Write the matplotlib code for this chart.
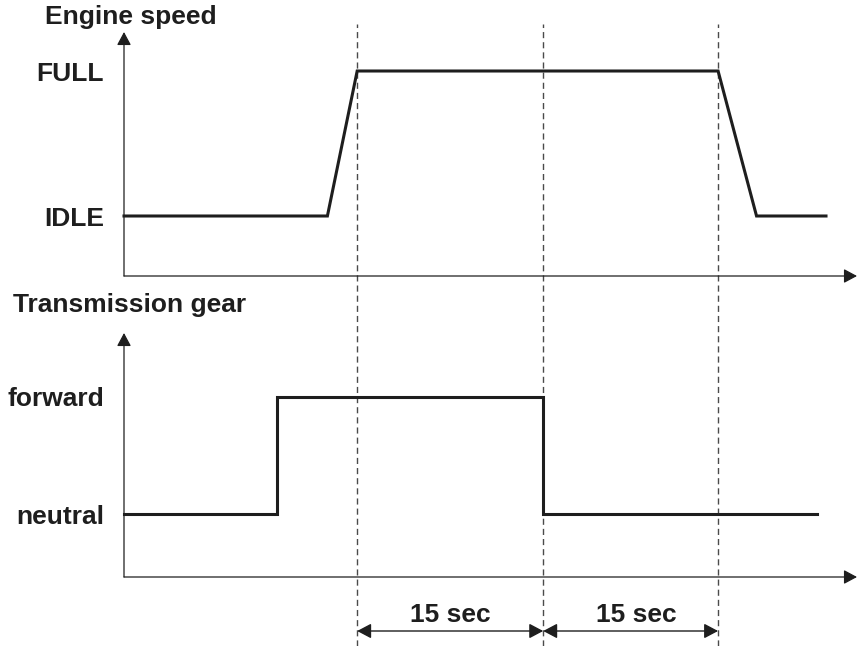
"""
Timing diagram: engine speed and transmission gear over time.
"""
import matplotlib
matplotlib.use("Agg")
import matplotlib.pyplot as plt

# ---------------------------------------------------------------------------
# Data (time in seconds, levels 0 = low state, 1 = high state)
# ---------------------------------------------------------------------------
T_END = 59.1

engine_t   = [0.0, 16.4, 18.8, 47.9, 51.0, 56.6]
engine_lvl = [0, 0, 1, 1, 0, 0]
engine_ticks = ["IDLE", "FULL"]

gear_t   = [0.0, 12.3, 12.3, 33.8, 33.8, 55.9]
gear_lvl = [0, 0, 1, 1, 0, 0]
gear_ticks = ["neutral", "forward"]

marks_t     = [18.8, 33.8, 47.9]
interval_lb = ["15 sec", "15 sec"]

# ---------------------------------------------------------------------------
# Style
# ---------------------------------------------------------------------------
_W, _H  = 857, 646
_DPI    = 100
_FONT   = "Liberation Sans"
_FS     = 19
_INK    = "#1e1e1e"
_DASH   = "#4a4a4a"

plt.rcParams["font.family"] = [_FONT, "DejaVu Sans"]
plt.rcParams["font.weight"] = "bold"

fig = plt.figure(figsize=(_W / _DPI, _H / _DPI), dpi=_DPI)

left  = 124 / _W
width = (_W - 124) / _W


def _panel(bottom_px, top_px, ylim, ticks, t, lvl):
    ax = fig.add_axes([left, 1 - bottom_px / _H, width, (bottom_px - top_px) / _H])
    ax.patch.set_visible(False)
    ax.plot(t, lvl, color=_INK, lw=2.2, solid_joinstyle="miter", clip_on=False)
    ax.set_xlim(0, T_END)
    ax.set_ylim(*ylim)
    for s in ax.spines.values():
        s.set_visible(False)
    ax.set_xticks([])
    ax.set_yticks([0, 1])
    ax.set_yticklabels(ticks, fontsize=_FS, fontweight="bold", color=_INK)
    ax.tick_params(axis="y", length=0, pad=14.4)
    arrow = dict(arrowstyle="-|>,head_length=0.8,head_width=0.43",
                 lw=0.9, color=_INK, shrinkA=0, shrinkB=0)
    ax.annotate("", xy=(1, 0), xytext=(0, 0), xycoords="axes fraction",
                arrowprops=arrow)
    ax.annotate("", xy=(0, 1), xytext=(0, 0), xycoords="axes fraction",
                arrowprops=arrow)
    return ax


# top: axis at y=276 px, IDLE 216, FULL 71, arrow tip 32 -> 145 px per level
ax_top = _panel(276, 32, (-60 / 145, 1 + 39 / 145), engine_ticks, engine_t, engine_lvl)
# bottom: axis at y=577 px, neutral 514, forward 397, arrow tip 333 -> 117 px per level
ax_bot = _panel(577, 333, (-63 / 117, 1 + 64 / 117), gear_ticks, gear_t, gear_lvl)

fig.text(45 / _W, 1 - 17 / _H, "Engine speed", fontsize=_FS, fontweight="bold",
         color=_INK, ha="left", va="center")
fig.text(13 / _W, 1 - 305 / _H, "Transmission gear", fontsize=_FS, fontweight="bold",
         color=_INK, ha="left", va="center")

# ---------------------------------------------------------------------------
# Overlay: dashed markers and interval dimensions
# ---------------------------------------------------------------------------
ov = fig.add_axes([left, 0, width, 1], zorder=-1)
ov.set_xlim(0, T_END)
ov.set_ylim(0, 1)
ov.axis("off")

for t in marks_t:
    ov.axvline(t, ymin=0, ymax=1 - 24 / _H, color=_DASH, lw=1.0,
               linestyle=(0, (4.4, 2.9)))

y_arrow = 1 - 631 / _H
y_label = 1 - 615 / _H
label_shift = [0.0, 0.45]   # second label sits slightly right of centre
for (t0, t1), lb, dx in zip(zip(marks_t[:-1], marks_t[1:]), interval_lb, label_shift):
    ov.annotate("", xy=(t1, y_arrow), xytext=(t0, y_arrow),
                arrowprops=dict(arrowstyle="<|-|>,head_length=0.85,head_width=0.45",
                                lw=1.0, color=_INK, shrinkA=0, shrinkB=0))
    ov.text((t0 + t1) / 2 + dx, y_label, lb, fontsize=_FS, fontweight="bold",
            color=_INK, ha="center", va="center")

fig.savefig("out.png", dpi=_DPI)
